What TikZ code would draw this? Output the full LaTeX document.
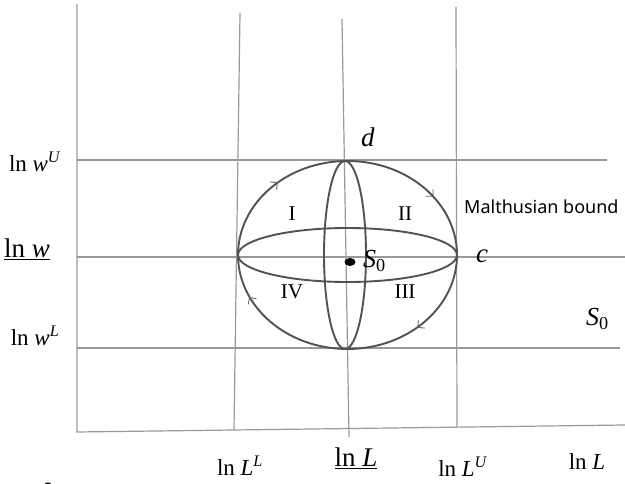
\documentclass[tikz,border=0pt]{standalone}
\usepackage{fontspec}
\setmainfont{Liberation Serif}
\newfontfamily\sansf{Noto Sans}
\usetikzlibrary{decorations.markings,arrows.meta}
\begin{document}
\begin{tikzpicture}[x=1pt,y=-1pt,
  gridline/.style={draw=black!40, line width=1.2pt},
  curve/.style={draw=black!68, line width=1.9pt},
  lbl/.style={inner sep=0pt, font=\fontsize{23}{26}\selectfont},
  slbl/.style={inner sep=0pt, font=\fontsize{26}{28}\selectfont},
  biglbl/.style={inner sep=0pt, font=\fontsize{27}{30}\selectfont},
  roman/.style={inner sep=0pt, font=\fontsize{21}{23}\selectfont},
  flowtip/.style={line width=0.9pt,black!60},
  flowmark/.style={decoration={markings,
     mark=at position 0.11 with {\arrow[flowtip]{Straight Barb[length=5pt,width=10pt,reversed]}},
     mark=at position 0.375 with {\arrow[flowtip]{Straight Barb[length=5pt,width=10pt,reversed]}},
     mark=at position 0.578 with {\arrow[flowtip]{Straight Barb[length=5pt,width=10pt,reversed]}},
     mark=at position 0.875 with {\arrow[flowtip]{Straight Barb[length=5pt,width=10pt,reversed]}}},
     postaction={decorate}}]
\useasboundingbox (0,0) rectangle (625,484);
% axes
\coordinate (ytop) at (77,4);
\coordinate (origin) at (77,432);
\coordinate (xend) at (625,425);
\draw[gridline] (ytop) -- (origin) -- (xend);
% vertical lines
\coordinate (LLt) at (240,13); \coordinate (LLb) at (234,430);
\coordinate (Lmt) at (342,19); \coordinate (Lmb) at (349,437);
\coordinate (LUt) at (456,7);  \coordinate (LUb) at (457,427);
\draw[gridline] (LLt) -- (LLb);
\draw[gridline] (Lmt) -- (Lmb);
\draw[gridline] (LUt) -- (LUb);
% horizontal lines
\coordinate (wUl) at (77,160); \coordinate (wUr) at (607,160);
\coordinate (wl) at (77,257);  \coordinate (wr) at (625,257);
\coordinate (wLl) at (77,348); \coordinate (wLr) at (620,348);
\draw[gridline] (wUl) -- (wUr);
\draw[gridline] (wl) -- (wr);
\draw[gridline] (wLl) -- (wLr);
% ellipses
\coordinate (ctr) at (347.5,255);
\coordinate (vctr) at (345,255);
\draw[curve,flowmark] (ctr) ellipse [x radius=109.5pt, y radius=94pt];
\draw[curve] (ctr) ellipse [x radius=109.5pt, y radius=27pt];
\draw[curve] (vctr) ellipse [x radius=21pt, y radius=94pt];
\fill[black] (350,262) ellipse [x radius=5.5pt, y radius=4pt];
% labels in the figure
\node[biglbl] (d) at (368,137) {\textit{d}};
\node[biglbl] (c) at (482,256) {\textit{c}};
\node[roman] (r1) at (292,214) {I};
\node[roman] (r2) at (405,214) {II};
\node[roman] (r3) at (405,292) {III};
\node[roman] (r4) at (292,292) {IV};
\node[slbl, anchor=west] (s0a) at (363,261) {\textit{S}\textsubscript{0}};
\node[slbl, anchor=west] (s0b) at (586,319) {\textit{S}\textsubscript{0}};
\node[inner sep=0pt, anchor=west, font=\sansf\fontsize{18}{20}\selectfont] (mb) at (464,207) {Malthusian bound};
% axis labels
\node[lbl] (lwU) at (35,162) {ln \textit{w}\textsuperscript{\textit{U}}};
\node[biglbl] (lw) at (27,249) {\underline{ln \textit{w}}};
\node[lbl] (lwL) at (35,336) {ln \textit{w}\textsuperscript{\textit{L}}};
\node[lbl] (lLL) at (240,466) {ln \textit{L}\textsuperscript{\textit{L}}};
\node[biglbl] (lL) at (356,458) {\underline{ln \textit{L}}};
\node[lbl] (lLU) at (463,467) {ln \textit{L}\textsuperscript{\textit{U}}};
\node[lbl] (lLx) at (587,462) {ln \textit{L}};
\node[inner sep=0pt, font=\sansf\fontsize{20}{22}\selectfont] (zero) at (48,490) {0};
\end{tikzpicture}
\end{document}
